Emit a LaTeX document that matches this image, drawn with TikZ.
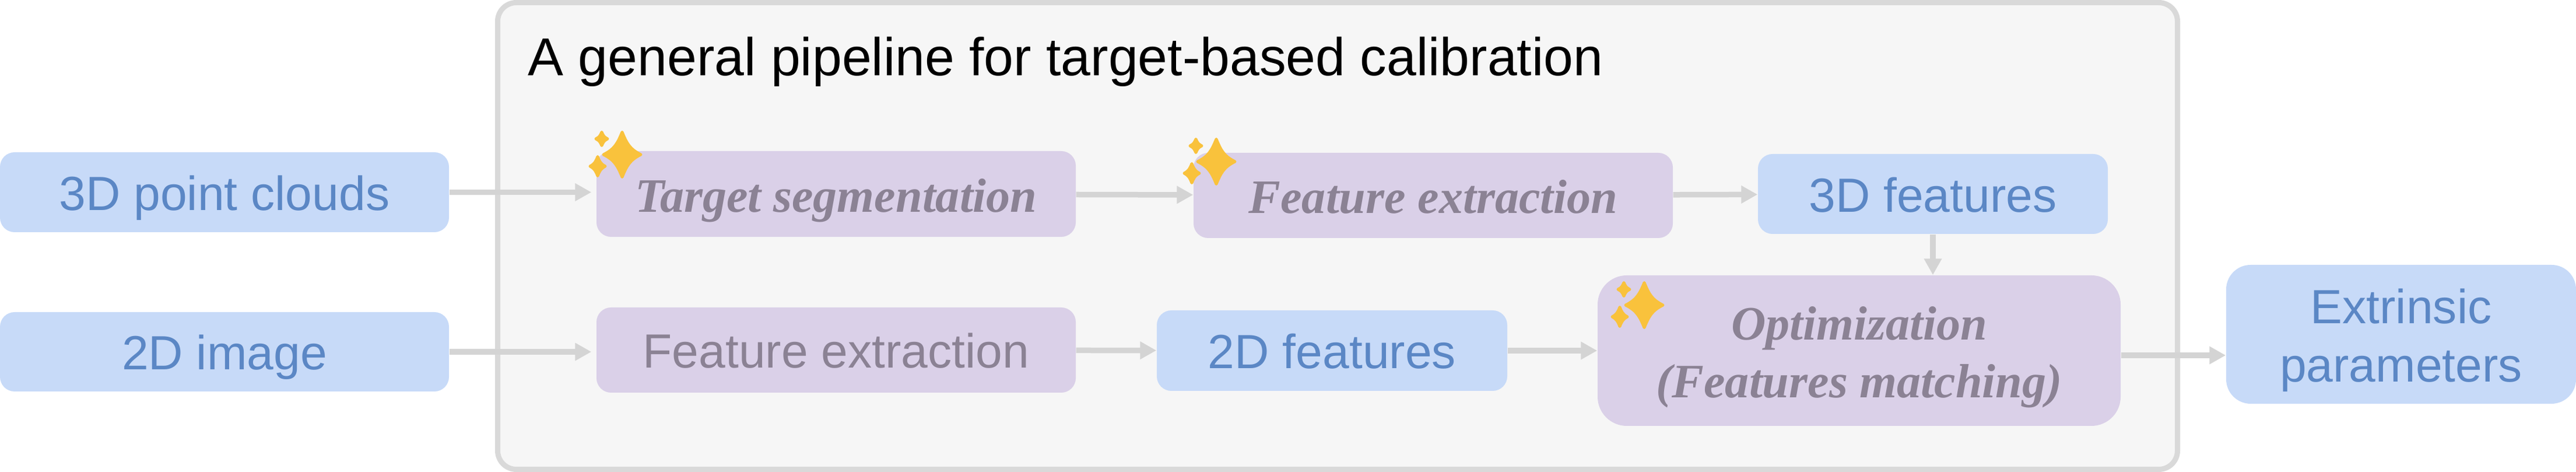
\documentclass[tikz,border=0pt]{standalone}
\usepackage{fontspec}
\setmainfont{Liberation Sans}
\newfontfamily\stepfont{Liberation Serif}
\usetikzlibrary{arrows.meta}
\definecolor{inblue}{HTML}{C7DAF8}
\definecolor{intext}{HTML}{5B87C5}
\definecolor{steppurple}{HTML}{DAD0E8}
\definecolor{steptext}{HTML}{8B8294}
\definecolor{flowgray}{HTML}{D4D4D4}
\definecolor{sparkgold}{HTML}{F9C23C}
\definecolor{panelfill}{HTML}{F6F6F6}
\definecolor{panelline}{HTML}{D9D9D9}
\newcommand{\sparklestar}[4]{%
   \filldraw[sparkgold,line width=0.05cm,line join=round]
   (#1,#2+#4) .. controls (#1+0.25*#3,#2+0.5*#4) and (#1+0.4*#3,#2+0.25*#4) .. (#1+#3,#2)
   .. controls (#1+0.4*#3,#2-0.25*#4) and (#1+0.25*#3,#2-0.5*#4) .. (#1,#2-#4)
   .. controls (#1-0.25*#3,#2-0.5*#4) and (#1-0.4*#3,#2-0.25*#4) .. (#1-#3,#2)
   .. controls (#1-0.4*#3,#2+0.25*#4) and (#1-0.25*#3,#2+0.5*#4) .. cycle;}
\tikzset{
   labelfont/.style={font=\fontsize{23.4}{28.2}\selectfont,align=center},
   oneline/.style={text height=0.72cm,text depth=0.10cm},
   inbox/.style={labelfont,fill=inblue,text=intext,rounded corners=0.25cm,inner sep=0pt},
   stepbox/.style={labelfont,fill=steppurple,text=steptext,rounded corners=0.25cm,inner sep=0pt},
   flow/.style={flowgray,line width=0.095cm,-{Triangle[length=0.28cm,width=0.29cm]}},
   sparkle/.pic={
      \sparklestar{0}{0}{0.32}{0.385}
      \sparklestar{-0.35}{0.27}{0.10}{0.115}
      \sparklestar{-0.42}{-0.20}{0.13}{0.165}
   }
}

\begin{document}
\begin{tikzpicture}
   \useasboundingbox (0,0) rectangle (44.18,8.09);
   \draw (22.94,4.045) node[fill=panelfill,draw=panelline,line width=0.09cm,rounded corners=0.32cm,inner sep=0pt,minimum width=28.81cm,minimum height=8.00cm] (panel) {};
   \draw (9.05,6.79) node[anchor=base west,inner sep=0pt,font=\fontsize{26}{30}\selectfont] (title) {A general pipeline for target-based calibration};
   \draw (3.85,4.795) node[inbox,oneline,minimum width=7.70cm,minimum height=1.37cm] (clouds) {3D point clouds};
   \draw (3.85,2.06) node[inbox,oneline,minimum width=7.70cm,minimum height=1.36cm] (image) {2D image};
   \draw (14.34,4.765) node[stepbox,oneline,minimum width=8.22cm,minimum height=1.47cm] (segment) {\stepfont\bfseries\itshape Target segmentation};
   \draw (24.58,4.74) node[stepbox,oneline,minimum width=8.22cm,minimum height=1.46cm] (extractnew) {\stepfont\bfseries\itshape Feature extraction};
   \draw (33.15,4.765) node[inbox,oneline,minimum width=6.00cm,minimum height=1.37cm] (features3d) {3D features};
   \draw (14.34,2.09) node[stepbox,oneline,minimum width=8.22cm,minimum height=1.46cm] (extractold) {Feature extraction};
   \draw (22.845,2.08) node[inbox,oneline,minimum width=6.01cm,minimum height=1.38cm] (features2d) {2D features};
   \draw (31.885,2.08) node[stepbox,rounded corners=0.5cm,minimum width=8.97cm,minimum height=2.58cm] (optimize) {\stepfont\bfseries\itshape\rule{0pt}{0.80cm}Optimization\\\stepfont\bfseries\itshape (Features matching)};
   \draw (41.18,2.36) node[inbox,rounded corners=0.42cm,minimum width=6.00cm,minimum height=2.38cm] (extrinsic) {\rule{0pt}{0.80cm}Extrinsic\\parameters};
   \draw[flow,shorten >=0.08cm] (clouds.east) -- (clouds.east -| segment.west);
   \draw[flow,shorten >=0.08cm] (image.east) -- (image.east -| extractold.west);
   \draw[flow] (segment) -- (extractnew);
   \draw[flow] (extractnew) -- (features3d);
   \draw[flow] (features3d.south) -- (features3d.south |- optimize.north);
   \draw[flow] (extractold) -- (features2d);
   \draw[flow] (features2d) -- (optimize);
   \draw[flow] ([yshift=-0.08cm]optimize.east) -- ([yshift=-0.08cm]optimize.east -| extrinsic.west);
   \pic at (10.67,5.44) {sparkle};
   \pic at (20.86,5.32) {sparkle};
   \pic at (28.20,2.86) {sparkle};
\end{tikzpicture}
\end{document}
